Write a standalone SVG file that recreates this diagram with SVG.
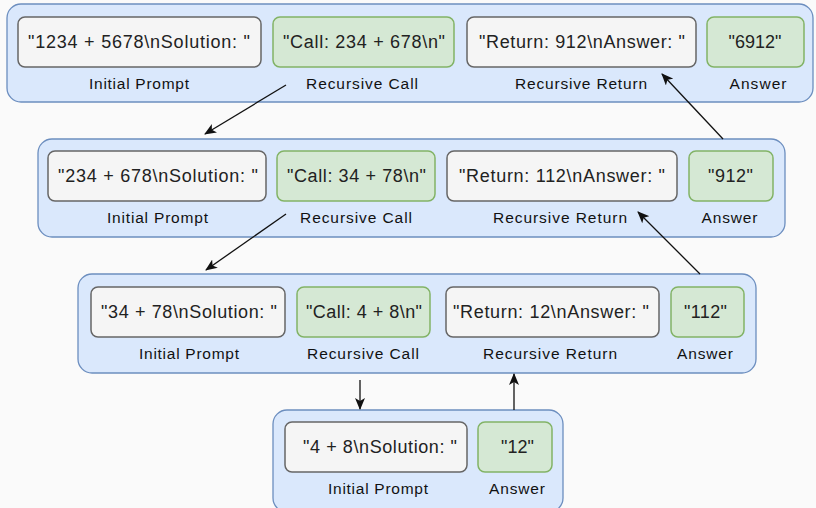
<svg xmlns="http://www.w3.org/2000/svg" width="816" height="508" viewBox="0 0 816 508">
  <style>
    .frame { fill: #dae8fc; stroke: #6c8ebf; stroke-width: 1.3; }
    .plain { fill: #f5f5f5; stroke: #666666; stroke-width: 1.5; }
    .green { fill: #d5e8d4; stroke: #82b366; stroke-width: 1.5; }
    .val { font-family: "Liberation Sans", Arial, sans-serif; font-size: 18px; fill: #222222; text-anchor: middle; }
    .cap { font-family: "Liberation Sans", Arial, sans-serif; font-size: 15.5px; fill: #111111; text-anchor: middle; }
    .edge { stroke: #111111; stroke-width: 1.3; fill: none; marker-end: url(#head); }
  </style>
  <defs>
    <marker id="head" viewBox="0 0 12 10" refX="11" refY="5" markerWidth="12" markerHeight="10" markerUnits="userSpaceOnUse" orient="auto">
      <path d="M0,0 L12,5 L0,10 L3,5 z" fill="#111111"/>
    </marker>
  </defs>

  <rect width="816" height="508" fill="#fafafa"/>

  <!-- level 1: 1234 + 5678 -->
  <g id="level1">
    <rect class="frame" x="7" y="4" width="806" height="98" rx="14"/>
    <g id="l1-prompt">
      <rect class="plain" x="18" y="17" width="243" height="50" rx="7"/>
      <text class="val" x="139" y="48" textLength="222" lengthAdjust="spacing">"1234 + 5678\nSolution: "</text>
      <text class="cap" x="139" y="89" textLength="100" lengthAdjust="spacing">Initial Prompt</text>
    </g>
    <g id="l1-call">
      <rect class="green" x="273" y="17" width="181" height="50" rx="7"/>
      <text class="val" x="364" y="48" textLength="162" lengthAdjust="spacing">"Call: 234 + 678\n"</text>
      <text class="cap" x="362" y="89" textLength="112" lengthAdjust="spacing">Recursive Call</text>
    </g>
    <g id="l1-return">
      <rect class="plain" x="467" y="17" width="229" height="50" rx="7"/>
      <text class="val" x="582" y="48" textLength="206" lengthAdjust="spacing">"Return:  912\nAnswer:  "</text>
      <text class="cap" x="581" y="89" textLength="132" lengthAdjust="spacing">Recursive Return</text>
    </g>
    <g id="l1-answer">
      <rect class="green" x="707" y="17" width="97" height="50" rx="7"/>
      <text class="val" x="755" y="48" textLength="53" lengthAdjust="spacing">"6912"</text>
      <text class="cap" x="758" y="89" textLength="57" lengthAdjust="spacing">Answer</text>
    </g>
  </g>

  <!-- level 2: 234 + 678 -->
  <g id="level2">
    <rect class="frame" x="38" y="139" width="747" height="98" rx="14"/>
    <g id="l2-prompt">
      <rect class="plain" x="48" y="151" width="218" height="50" rx="7"/>
      <text class="val" x="158" y="182" textLength="200" lengthAdjust="spacing">"234 + 678\nSolution: "</text>
      <text class="cap" x="157.5" y="223" textLength="101" lengthAdjust="spacing">Initial Prompt</text>
    </g>
    <g id="l2-call">
      <rect class="green" x="277" y="151" width="158" height="50" rx="7"/>
      <text class="val" x="356.5" y="182" textLength="139" lengthAdjust="spacing">"Call: 34 + 78\n"</text>
      <text class="cap" x="356" y="223" textLength="112" lengthAdjust="spacing">Recursive Call</text>
    </g>
    <g id="l2-return">
      <rect class="plain" x="447" y="151" width="230" height="50" rx="7"/>
      <text class="val" x="562" y="182" textLength="206" lengthAdjust="spacing">"Return:  112\nAnswer:  "</text>
      <text class="cap" x="560" y="223" textLength="134" lengthAdjust="spacing">Recursive Return</text>
    </g>
    <g id="l2-answer">
      <rect class="green" x="689" y="151" width="84" height="50" rx="7"/>
      <text class="val" x="730.5" y="182" textLength="45" lengthAdjust="spacing">"912"</text>
      <text class="cap" x="729.5" y="223" textLength="56" lengthAdjust="spacing">Answer</text>
    </g>
  </g>

  <!-- level 3: 34 + 78 -->
  <g id="level3">
    <rect class="frame" x="78" y="274" width="678" height="99" rx="14"/>
    <g id="l3-prompt">
      <rect class="plain" x="91" y="287" width="194" height="50" rx="7"/>
      <text class="val" x="189" y="318" textLength="176" lengthAdjust="spacing">"34 + 78\nSolution: "</text>
      <text class="cap" x="189" y="359" textLength="100" lengthAdjust="spacing">Initial Prompt</text>
    </g>
    <g id="l3-call">
      <rect class="green" x="297" y="287" width="133" height="50" rx="7"/>
      <text class="val" x="364" y="318" textLength="116" lengthAdjust="spacing">"Call: 4 + 8\n"</text>
      <text class="cap" x="363" y="359" textLength="112" lengthAdjust="spacing">Recursive Call</text>
    </g>
    <g id="l3-return">
      <rect class="plain" x="446" y="287" width="213" height="50" rx="7"/>
      <text class="val" x="551" y="318" textLength="196" lengthAdjust="spacing">"Return:  12\nAnswer:  "</text>
      <text class="cap" x="550" y="359" textLength="134" lengthAdjust="spacing">Recursive Return</text>
    </g>
    <g id="l3-answer">
      <rect class="green" x="671" y="287" width="73" height="50" rx="7"/>
      <text class="val" x="705.5" y="318" textLength="43" lengthAdjust="spacing">"112"</text>
      <text class="cap" x="705" y="359" textLength="56" lengthAdjust="spacing">Answer</text>
    </g>
  </g>

  <!-- level 4: 4 + 8 (base case) -->
  <g id="level4">
    <rect class="frame" x="273" y="410" width="290" height="102" rx="14"/>
    <g id="l4-prompt">
      <rect class="plain" x="285" y="422" width="182" height="50" rx="7"/>
      <text class="val" x="380" y="453" textLength="154" lengthAdjust="spacing">"4 + 8\nSolution: "</text>
      <text class="cap" x="378" y="494" textLength="100" lengthAdjust="spacing">Initial Prompt</text>
    </g>
    <g id="l4-answer">
      <rect class="green" x="478" y="422" width="74" height="50" rx="7"/>
      <text class="val" x="517.5" y="453" textLength="33" lengthAdjust="spacing">"12"</text>
      <text class="cap" x="517" y="494" textLength="56" lengthAdjust="spacing">Answer</text>
    </g>
  </g>

  <!-- calls go down-left, returns go up-left -->
  <g id="connectors">
    <line class="edge" x1="286" y1="85" x2="205" y2="134"/>
    <line class="edge" x1="723" y1="139" x2="662" y2="74"/>
    <line class="edge" x1="286" y1="214" x2="206" y2="270"/>
    <line class="edge" x1="700" y1="274" x2="638" y2="212"/>
    <line class="edge" x1="360" y1="380" x2="360" y2="409"/>
    <line class="edge" x1="514" y1="410" x2="514" y2="374"/>
  </g>
</svg>
